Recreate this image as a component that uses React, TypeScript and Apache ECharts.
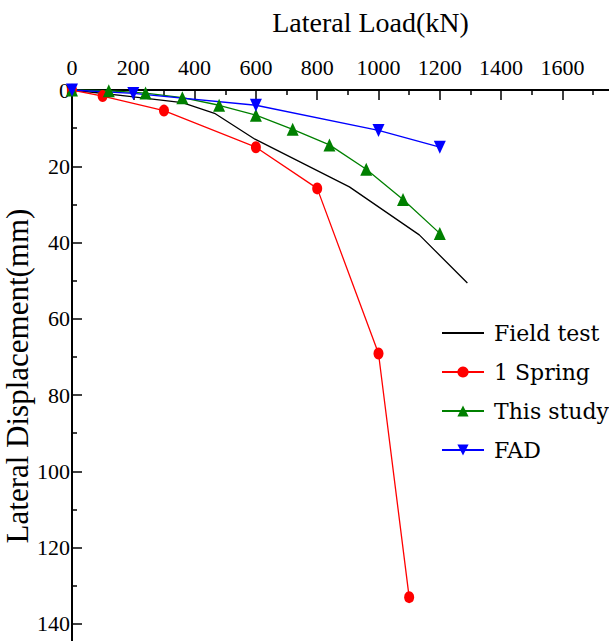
import React, { useEffect, useRef } from 'react';
import * as echarts from 'echarts';

const loadField = [0, 180, 360, 465, 597, 905, 1133, 1290];
const dispField = [0, 1.6, 3.3, 6.1, 12.9, 25.4, 38.0, 50.6];
const loadSpring = [0, 100, 300, 600, 800, 1000, 1100];
const dispSpring = [0, 1.6, 5.4, 15.0, 25.8, 69.1, 133.0];
const loadStudy = [0, 120, 240, 360, 480, 600, 720, 840, 960, 1080, 1200];
const dispStudy = [0, 0.2, 0.8, 2.0, 4.0, 6.6, 10.3, 14.4, 20.8, 28.7, 37.6];
const loadFAD = [0, 200, 600, 1000, 1200];
const dispFAD = [0, 0.9, 4.0, 10.6, 15.0];

const seriesNames = ['Field test', '1 Spring', 'This study', 'FAD'];
const xTitle = 'Lateral Load(kN)';
const yTitle = 'Lateral Displacement(mm)';

const zip = (a: number[], b: number[]) => a.map((v, i) => [v, b[i]]);

export default function App() {
  const ref = useRef<HTMLDivElement>(null);
  useEffect(() => {
    const chart = echarts.init(ref.current!, null, { renderer: 'svg' });
    const serif = 'Liberation Serif';
    chart.setOption({
      animation: false,
      backgroundColor: '#fff',
      grid: {
        left: 72,
        top: 90,
        width: 613,
        height: 572,
        containLabel: false,
        outerBoundsMode: 'none',
      },
      xAxis: {
        type: 'value',
        position: 'top',
        min: 0,
        max: 2000,
        interval: 200,
        name: xTitle,
        nameLocation: 'middle',
        nameGap: 54,
        nameTextStyle: { fontFamily: serif, fontSize: 28, color: '#000', padding: [0, 16, 0, 0] },
        axisLine: { show: true, lineStyle: { color: '#000', width: 2 } },
        axisTick: { show: true, inside: true, length: 10, lineStyle: { color: '#000', width: 1.5 } },
        minorTick: { show: true, splitNumber: 2, length: 5, lineStyle: { color: '#000', width: 1.5 } },
        axisLabel: {
          fontFamily: serif,
          fontSize: 22,
          color: '#000',
          margin: 12,
          formatter: (v: number) => (v > 1600 ? '' : String(v)),
        },
        splitLine: { show: false },
      },
      yAxis: {
        type: 'value',
        inverse: true,
        min: 0,
        max: 150,
        interval: 20,
        name: yTitle,
        nameLocation: 'middle',
        nameGap: 39,
        nameMoveOverlap: false,
        nameTextStyle: { fontFamily: serif, fontSize: 31, color: '#000' },
        axisLine: { show: true, lineStyle: { color: '#000', width: 2 } },
        axisTick: { show: true, inside: true, length: 10, lineStyle: { color: '#000', width: 1.5 } },
        minorTick: { show: true, splitNumber: 2, length: 5, lineStyle: { color: '#000', width: 1.5 } },
        axisLabel: {
          fontFamily: serif,
          fontSize: 22,
          color: '#000',
          margin: 2,
          formatter: (v: number) => (v > 140 ? '' : String(v)),
        },
        splitLine: { show: false },
      },
      legend: {
        orient: 'vertical',
        left: 441,
        top: 322,
        padding: 0,
        itemWidth: 42,
        itemHeight: 14,
        itemGap: 17,
        textStyle: { fontFamily: 'DejaVu Serif', fontSize: 22, color: '#000', padding: [0, 0, 0, 5] },
        data: [
          { name: seriesNames[0], itemStyle: { opacity: 0 } },
          { name: seriesNames[1] },
          { name: seriesNames[2] },
          { name: seriesNames[3] },
        ],
      },
      series: [
        {
          name: seriesNames[0],
          type: 'line',
          data: zip(loadField, dispField),
          symbol: 'none',
          lineStyle: { color: '#000', width: 1.3 },
          itemStyle: { color: '#000' },
        },
        {
          name: seriesNames[1],
          type: 'line',
          data: zip(loadSpring, dispSpring),
          symbol: 'circle',
          symbolSize: [10, 12],
          lineStyle: { color: '#ff0000', width: 1.3 },
          itemStyle: { color: '#ff0000' },
        },
        {
          name: seriesNames[2],
          type: 'line',
          data: zip(loadStudy, dispStudy),
          symbol: 'triangle',
          symbolSize: [12, 13],
          lineStyle: { color: '#008000', width: 1.3 },
          itemStyle: { color: '#008000' },
        },
        {
          name: seriesNames[3],
          type: 'line',
          data: zip(loadFAD, dispFAD),
          symbol: 'triangle',
          symbolRotate: 180,
          symbolSize: [12, 13],
          lineStyle: { color: '#0000ff', width: 1.3 },
          itemStyle: { color: '#0000ff' },
        },
      ],
    });
    return () => chart.dispose();
  }, []);
  return (
    <div
      style={{
        position: 'fixed',
        left: 0,
        top: 0,
        width: 609,
        height: 641,
        overflow: 'hidden',
        background: '#fff',
      }}
    >
      <div ref={ref} style={{ width: 720, height: 700 }} />
    </div>
  );
}
